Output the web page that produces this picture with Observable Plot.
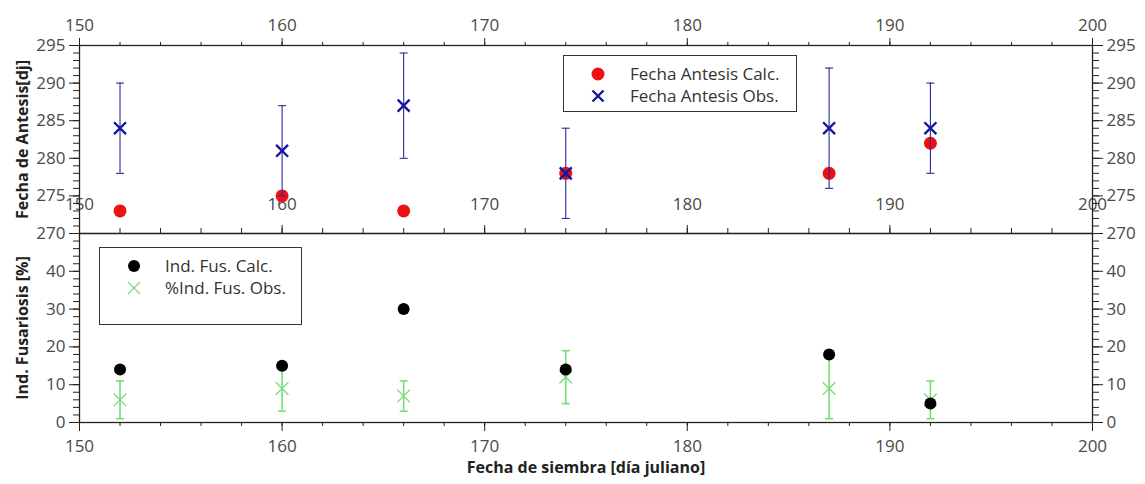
<!DOCTYPE html>
<html>
<head>
<meta charset="utf-8">
<script src="https://cdn.jsdelivr.net/npm/d3@7"></script>
<script src="https://cdn.jsdelivr.net/npm/@observablehq/plot@0.6"></script>
<style>
  html, body { margin: 0; padding: 0; background: white; }
  #wrap { position: relative; width: 1145px; height: 484px; font-family: "Open Sans", sans-serif; }
  .panel { position: absolute; left: 0; }
  .legend { position: absolute; background: white; border: 1.3px solid #333; box-sizing: border-box; }
  .legend .sym { position: absolute; width: 16px; height: 16px; }
  .legend .lab { position: absolute; font-size: 17px; color: #333; white-space: nowrap; line-height: 22px; }
</style>
</head>
<body>
<div id="wrap">
  <div id="top" class="panel" style="top:0"></div>
  <div id="bot" class="panel" style="top:233px"></div>
  <div class="legend" style="left:563px; top:55px; width:234px; height:57px;">
    <svg class="sym" style="left:26px; top:10px" viewBox="-8 -8 16 16"><circle r="6.5" fill="#ee1111"/></svg>
    <div class="lab" style="left:66px; top:7px">Fecha Antesis Calc.</div>
    <svg class="sym" style="left:26px; top:32px" viewBox="-8 -8 16 16"><path d="M-5.5,-5.5L5.5,5.5M5.5,-5.5L-5.5,5.5" stroke="#1616a0" stroke-width="2.4"/></svg>
    <div class="lab" style="left:66px; top:29px">Fecha Antesis Obs.</div>
  </div>
  <div class="legend" style="left:99px; top:247px; width:203px; height:78px;">
    <svg class="sym" style="left:26px; top:10px" viewBox="-8 -8 16 16"><circle r="6" fill="#000"/></svg>
    <div class="lab" style="left:65px; top:7px">Ind. Fus. Calc.</div>
    <svg class="sym" style="left:26px; top:32px" viewBox="-8 -8 16 16"><path d="M-6,-6L6,6M6,-6L-6,6" stroke="#77dd77" stroke-width="1.3"/></svg>
    <div class="lab" style="left:65px; top:29px">%Ind. Fus. Obs.</div>
  </div>
</div>
<script>
// ---- data ----
const days = [152, 160, 166, 174, 187, 192];
const antCalc = [273, 275, 273, 278, 278, 282];
const antObs = [284, 281, 287, 278, 284, 284];
const antObsLo = [278, 275, 280, 272, 276, 278];
const antObsHi = [290, 287, 294, 284, 292, 290];
const fusCalc = [14, 15, 30, 14, 18, 5];
const fusObs = [6, 9, 7, 12, 9, 6];
const fusObsLo = [1, 3, 3, 5, 1, 1];
const fusObsHi = [11, 15, 11, 19, 17, 11];
const xTicks = [150, 160, 170, 180, 190, 200];
const antTicks = [270, 275, 280, 285, 290, 295];
const fusTicks = [0, 10, 20, 30, 40];

const ant = days.map((d, i) => ({day: d, calc: antCalc[i], obs: antObs[i], lo: antObsLo[i], hi: antObsHi[i]}));
const fus = days.map((d, i) => ({day: d, calc: fusCalc[i], obs: fusObs[i], lo: fusObsLo[i], hi: fusObsHi[i]}));

const xMinor = d3.range(150, 201, 2);
const antMinor = d3.range(270, 296, 1);
const fusMinor = d3.range(0, 51, 2);

const capSymbol = {draw(ctx, size) { const r = Math.sqrt(size / Math.PI); ctx.moveTo(-r, 0); ctx.lineTo(r, 0); }};

const AX = "#222";
const TXT = "#4a4a4a";
const FS = 17;
const W = 1145, ML = 79, MR = 53;
const common = {
  width: W, marginLeft: ML, marginRight: MR,
  style: {fontFamily: "'Open Sans', sans-serif", background: "transparent", overflow: "visible"},
};
const none = () => "";

const topPlot = Plot.plot({
  ...common,
  height: 233, marginTop: 45, marginBottom: 0,
  x: {domain: [150, 200]},
  y: {domain: [270, 295]},
  marks: [
    Plot.axisX({anchor: "top", ticks: xTicks, tickSize: 8, tickPadding: 7, fontSize: FS, stroke: AX, fill: TXT, label: null}),
    Plot.axisX({anchor: "top", ticks: xMinor, tickSize: 4, tickFormat: none, stroke: AX, label: null}),
    Plot.axisX({anchor: "bottom", ticks: xTicks, tickSize: -8, tickFormat: none, stroke: AX, label: null}),
    Plot.axisX({anchor: "bottom", ticks: xMinor, tickSize: -5, tickFormat: none, stroke: AX, label: null}),
    Plot.text(xTicks, {x: d => d, frameAnchor: "bottom", dy: -24, text: d => String(d), fontSize: FS, fill: TXT}),
    Plot.axisY({anchor: "left", ticks: antTicks, tickSize: 10, tickPadding: 4, fontSize: FS, stroke: AX, fill: TXT, label: null}),
    Plot.axisY({anchor: "left", ticks: antMinor, tickSize: 6, tickFormat: none, stroke: AX, label: null}),
    Plot.axisY({anchor: "right", ticks: antTicks, tickSize: 10, tickPadding: 4, fontSize: FS, stroke: AX, fill: TXT, label: null}),
    Plot.axisY({anchor: "right", ticks: antMinor, tickSize: 6, tickFormat: none, stroke: AX, label: null}),
    Plot.frame({stroke: AX, strokeWidth: 1.3}),
    Plot.text(["Fecha de Antesis[dj]"], {frameAnchor: "left", textAnchor: "middle", dx: -57, rotate: -90, fontSize: 16, fontWeight: "bold", fill: "#222"}),
    Plot.dot(ant, {x: "day", y: "calc", r: 6.5, fill: "#ee1111", stroke: "none"}),
    Plot.ruleX(ant, {x: "day", y1: "lo", y2: "hi", stroke: "#2a2a9a", strokeWidth: 1.1}),
    Plot.dot(ant, {x: "day", y: "lo", symbol: capSymbol, r: 4, stroke: "#2a2a9a", fill: "none", strokeWidth: 1.1}),
    Plot.dot(ant, {x: "day", y: "hi", symbol: capSymbol, r: 4, stroke: "#2a2a9a", fill: "none", strokeWidth: 1.1}),
    Plot.dot(ant, {x: "day", y: "obs", symbol: "times", r: 5.5, stroke: "#1616a0", strokeWidth: 2.4}),
  ]
});
document.getElementById("top").appendChild(topPlot);

const botPlot = Plot.plot({
  ...common,
  height: 251, marginTop: 0, marginBottom: 62,
  x: {domain: [150, 200]},
  y: {domain: [0, 50]},
  marks: [
    Plot.axisX({anchor: "bottom", ticks: xTicks, tickSize: 9, tickPadding: 8, fontSize: FS, stroke: AX, fill: TXT, label: null}),
    Plot.axisX({anchor: "bottom", ticks: xMinor, tickSize: 4, tickFormat: none, stroke: AX, label: null}),
    Plot.axisY({anchor: "left", ticks: fusTicks, tickSize: 10, tickPadding: 4, fontSize: FS, stroke: AX, fill: TXT, label: null}),
    Plot.axisY({anchor: "left", ticks: fusMinor, tickSize: 6, tickFormat: none, stroke: AX, label: null}),
    Plot.axisY({anchor: "right", ticks: fusTicks, tickSize: 10, tickPadding: 4, fontSize: FS, stroke: AX, fill: TXT, label: null}),
    Plot.axisY({anchor: "right", ticks: fusMinor, tickSize: 6, tickFormat: none, stroke: AX, label: null}),
    Plot.frame({stroke: AX, strokeWidth: 1.3}),
    Plot.text(["Ind. Fusariosis [%]"], {frameAnchor: "left", textAnchor: "middle", dx: -57, rotate: -90, fontSize: 16, fontWeight: "bold", fill: "#222"}),
    Plot.text(["Fecha de siembra [día juliano]"], {frameAnchor: "bottom", dy: 50, fontSize: 16, fontWeight: "bold", fill: "#222"}),
    Plot.ruleX(fus, {x: "day", y1: "lo", y2: "hi", stroke: "#77dd77", strokeWidth: 1.6}),
    Plot.dot(fus, {x: "day", y: "lo", symbol: capSymbol, r: 4, stroke: "#77dd77", fill: "none", strokeWidth: 1.6}),
    Plot.dot(fus, {x: "day", y: "hi", symbol: capSymbol, r: 4, stroke: "#77dd77", fill: "none", strokeWidth: 1.6}),
    Plot.dot(fus, {x: "day", y: "obs", symbol: "times", r: 5.8, stroke: "#77dd77", strokeWidth: 1.3}),
    Plot.dot(fus, {x: "day", y: "calc", r: 6, fill: "#000", stroke: "none"}),
  ]
});
document.getElementById("bot").appendChild(botPlot);
</script>
</body>
</html>
